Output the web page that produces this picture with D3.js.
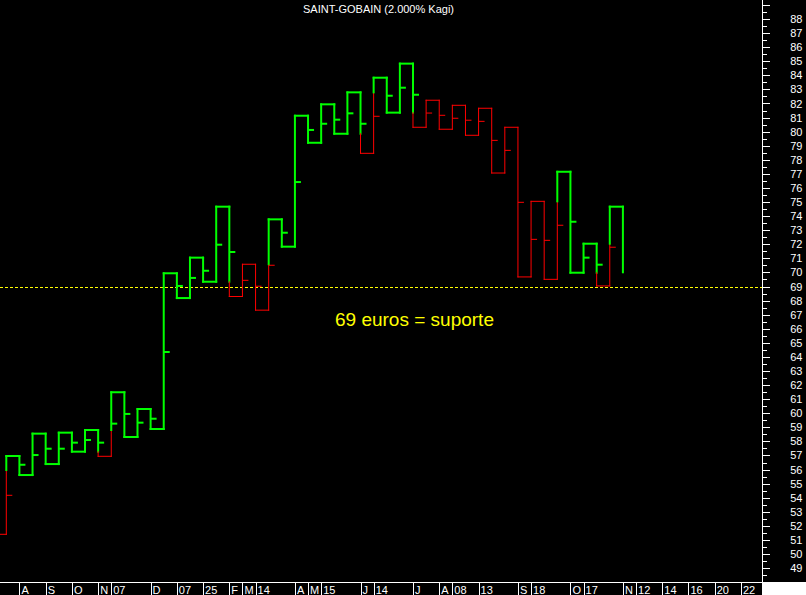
<!DOCTYPE html>
<html><head><meta charset="utf-8">
<script src="https://cdn.jsdelivr.net/npm/d3@7"></script>
<style>html,body{margin:0;padding:0;background:#000;} svg{display:block;}</style>
</head><body>
<svg id="chart" width="806" height="595"></svg>
<script>
const titleText = "SAINT-GOBAIN (2.000% Kagi)";
// Kagi turning prices (first value is the prior shoulder, off-screen)
const kagiPrices = [55.97, 51.40, 56.96, 55.61, 58.55, 56.39, 58.62, 57.27, 58.81, 56.94,
  61.49, 58.31, 60.30, 58.88, 69.94, 68.18, 71.05, 69.34, 74.67, 68.29,
  70.58, 67.32, 73.77, 71.83, 81.13, 79.21, 81.94, 79.85, 82.79, 78.46,
  83.83, 81.35, 84.83, 80.31, 82.23, 80.17, 81.87, 79.74, 81.66, 77.06,
  80.31, 69.68, 75.05, 69.51, 77.15, 69.98, 72.04, 69.04, 74.67, 70.01];
// small marker price on each vertical line, from line 2 onwards
const markPrices = [54.17, 56.34, 57.03, 57.48, 57.48, 57.91, 58.10, 57.91, 59.26, 59.95,
  59.33, 59.61, 64.35, 69.04, 69.61, 70.12, 71.97, 71.45, 69.44, 69.02,
  70.51, 72.82, 76.42, 80.12, 80.56, 80.85, 81.30, 80.56, 81.09, 82.55,
  83.12, 82.62, 81.32, 81.16, 80.95, 80.81, 80.73, 79.38, 78.67, 74.98,
  72.35, 72.28, 73.35, 73.60, 71.05, 70.55, 71.79, null];
const dateCols = [3,5,7,9,10,13,15,17,19,20,21,24,25,26,29,30,33,35,36,38,41,42,45,46,49,50,52,54,56,58];
const dateLabels = ["A","S","O","N","07","D","07","25","F","M","14","A","M","15","J","14","J","A","08","13","S","18","O","17","N","12","14","16","20","22"];
const yMajorTicks = d3.range(49, 90);
const yMinorTicks = d3.range(48.5, 89, 1);
const supportLevel = 69;
const supportText = "69 euros = suporte";

const W = 806, H = 595, axisX = 762, bandTop = 582;
const FONT = "'Liberation Sans', Arial, sans-serif";
const GREEN = "#00ff00", RED = "#ff0000", YELLOW = "#ffff00";

const svg = d3.select("#chart");
svg.append("rect").attr("width", W).attr("height", H).attr("fill", "#000");

const x = d3.scaleLinear().domain([2, 49]).range([6.3, 622.9]);
const y = d3.scaleLinear().domain([49, 88]).range([568.1, 19]);

// Title
svg.append("text").attr("x", 378.5).attr("y", 13).attr("text-anchor", "middle")
  .attr("fill", "#fff").style("font", "11px " + FONT).text(titleText);

// support line
svg.append("line").attr("x1", 0).attr("x2", axisX).attr("y1", Math.round(y(supportLevel)) + 0.5)
  .attr("y2", Math.round(y(supportLevel)) + 0.5)
  .attr("stroke", YELLOW).attr("stroke-width", 1).attr("stroke-dasharray", "3,2");

svg.append("text").attr("x", 335).attr("y", 325.5).attr("fill", YELLOW)
  .style("font", "19px " + FONT).text(supportText);

// Kagi segments
let yang = false;
const segs = [], marks = [];
const n = kagiPrices.length - 1;
for (let j = 1; j <= n; j++) {
  const a = kagiPrices[j - 1], b = kagiPrices[j];
  let split = null;
  if (j >= 2) {
    const prev = kagiPrices[j - 2];
    if (b > a && !yang && b > prev) split = prev;
    if (b < a && yang && b < prev) split = prev;
  }
  const before = yang;
  if (split !== null) {
    segs.push({x1: x(j), x2: x(j), y1: y(a), y2: y(split), yang: before});
    yang = !yang;
    segs.push({x1: x(j), x2: x(j), y1: y(split), y2: y(b), yang: yang});
  } else {
    segs.push({x1: x(j), x2: x(j), y1: y(a), y2: y(b), yang: yang});
  }
  if (j >= 2) {
    const m = markPrices[j - 2];
    if (m != null) {
      let st = yang;
      if (split !== null) st = ((b > a) ? (m < split) : (m > split)) ? before : yang;
      marks.push({x: x(j), y: y(m), yang: st});
    }
  }
  if (j < n) segs.push({x1: x(j), x2: x(j + 1), y1: y(b), y2: y(b), yang: yang});
}

const g = svg.append("g");
g.selectAll("line.seg").data(segs).enter().append("line").attr("class", "seg")
  .attr("x1", d => d.x1).attr("x2", d => d.x2).attr("y1", d => d.y1).attr("y2", d => d.y2)
  .attr("stroke", d => d.yang ? GREEN : RED)
  .attr("stroke-width", d => d.yang ? 2 : 1)
  .attr("stroke-linecap", "square");
g.selectAll("line.mark").data(marks).enter().append("line").attr("class", "mark")
  .attr("x1", d => d.x).attr("x2", d => d.x + 6).attr("y1", d => d.y).attr("y2", d => d.y)
  .attr("stroke", d => d.yang ? GREEN : RED)
  .attr("stroke-width", d => d.yang ? 2 : 1);

// Right axis
const yAxisMajor = d3.axisRight(y).tickValues(yMajorTicks).tickSize(7)
  .tickFormat(d => d <= 88 ? d3.format("d")(d) : "");
const yAxisMinor = d3.axisRight(y).tickValues(yMinorTicks).tickSize(4).tickFormat("");
const ga = svg.append("g").attr("transform", `translate(${axisX + 0.5},0)`);
ga.call(yAxisMajor);
ga.select(".domain").remove();
ga.selectAll("line").attr("stroke", "#fff").attr("shape-rendering", "crispEdges");
ga.selectAll("text").attr("x", 40).attr("text-anchor", "end").attr("fill", "#fff")
  .style("font", "11px " + FONT);
const gm = svg.append("g").attr("transform", `translate(${axisX + 0.5},0)`);
gm.call(yAxisMinor);
gm.select(".domain").remove();
gm.selectAll("line").attr("stroke", "#fff").attr("shape-rendering", "crispEdges");

svg.append("line").attr("x1", axisX + 0.5).attr("x2", axisX + 0.5).attr("y1", 0).attr("y2", bandTop)
  .attr("stroke", "#fff").attr("shape-rendering", "crispEdges");

// Bottom date band
svg.append("line").attr("x1", 0).attr("x2", axisX).attr("y1", bandTop + 0.5).attr("y2", bandTop + 0.5)
  .attr("stroke", "#fff").attr("shape-rendering", "crispEdges");
svg.append("rect").attr("x", axisX).attr("y", bandTop).attr("width", W - axisX).attr("height", H - bandTop)
  .attr("fill", "#fff");
const xAxis = d3.axisBottom(x).tickValues(dateCols).tickSize(H - bandTop)
  .tickFormat((d, i) => dateLabels[i]);
const gx = svg.append("g").attr("transform", `translate(0,${bandTop})`);
gx.call(xAxis);
gx.select(".domain").remove();
gx.selectAll("line").attr("stroke", "#fff").attr("shape-rendering", "crispEdges");
gx.selectAll("text").attr("x", 1.5).attr("y", 12).attr("dy", 0).attr("text-anchor", "start")
  .attr("fill", "#fff").style("font", "11px " + FONT);
</script>
</body></html>
